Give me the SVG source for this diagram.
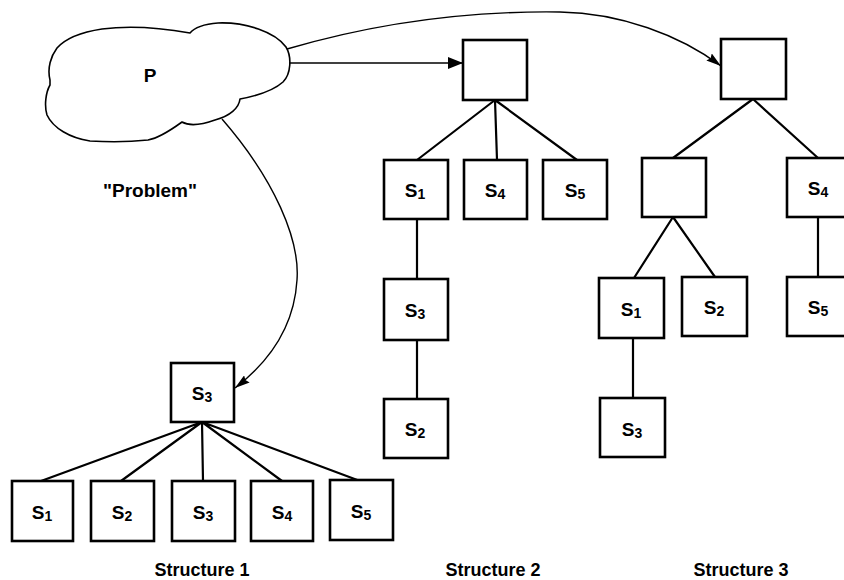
<svg xmlns="http://www.w3.org/2000/svg" width="844" height="580" viewBox="0 0 844 580">
  <defs>
    <style>
      .box { fill: #fff; stroke: #000; stroke-width: 2.6; }
      .edge { fill: none; stroke: #000; stroke-width: 2.2; }
      .flow { fill: none; stroke: #000; stroke-width: 1.4; }
      .cloud { fill: #fff; stroke: #000; stroke-width: 1.6; stroke-linejoin: round; }
      .lbl { font-family: "Liberation Sans", Arial, sans-serif; font-size: 19px; font-weight: bold; fill: #000; text-anchor: middle; }
      .sub { font-size: 14px; }
      .cap { font-family: "Liberation Sans", Arial, sans-serif; font-size: 18px; font-weight: bold; fill: #000; text-anchor: middle; }
    </style>
    <marker id="headBig" viewBox="0 0 15 12" refX="15" refY="6" markerWidth="15" markerHeight="12" orient="auto" markerUnits="userSpaceOnUse">
      <path d="M0,0 L15,6 L0,12 z" fill="#000"/>
    </marker>
    <marker id="headThin" viewBox="0 0 15 9" refX="15" refY="4.5" markerWidth="15" markerHeight="9" orient="auto" markerUnits="userSpaceOnUse">
      <path d="M0,0 L15,4.5 L0,9 L2,4.5 z" fill="#000"/>
    </marker>
  </defs>

  <!-- problem cloud -->
  <g id="problem">
    <path class="cloud" d="M50,80 C47,68 51,56 57,48 C65,39 82,32 102,29 C132,25 162,28 190,33 C195,27 205,24 218,23 C246,22 275,32 286,47 C292,57 291,74 283,82 C273,91 256,96 240,99 C239,108 230,116 215,120 C201,125 189,126 182,122 C171,130 159,138 148,140 C130,142 106,142 90,141 C70,138 53,128 47,115 C44,105 46,92 50,85 Z"/>
    <text class="lbl" x="150" y="82">P</text>
  </g>
  <text id="problem-caption" class="lbl" x="150" y="197">"Problem"</text>

  <!-- connectors -->
  <g id="connectors">
    <!-- problem to each structure -->
    <path class="flow" d="M289,63 L463,63" marker-end="url(#headBig)"/>
    <path class="flow" d="M287,49 Q420,10 560,12 C620,13 680,35 721,66" marker-end="url(#headThin)"/>
    <path class="flow" d="M222,119 C275,180 300,240 297,280 C294,330 265,365 235,388" marker-end="url(#headThin)"/>

    <!-- structure 1 -->
    <path class="edge" d="M202,422 L41,481 M202,422 L121,481 M202,422 L203,481 M202,422 L282,481 M202,422 L360,481"/>

    <!-- structure 2 -->
    <path class="edge" d="M495,100 L417,160 M495,100 L497,160 M495,100 L577,160 M417,219 L417,279 M417,340 L417,399"/>

    <!-- structure 3 -->
    <path class="edge" d="M753,99 L673,158 M753,99 L818,158 M673,217 L634,278 M673,217 L715,277 M633,338 L633,398 M818,217 L818,277"/>
  </g>

  <!-- structure 1 nodes -->
  <g id="st1-root"><rect class="box" x="171" y="363" width="63" height="59"/><text class="lbl" x="202" y="400">S<tspan class="sub" dy="2">3</tspan></text></g>
  <g id="st1-s1"><rect class="box" x="12" y="481" width="61" height="60"/><text class="lbl" x="42" y="519">S<tspan class="sub" dy="2">1</tspan></text></g>
  <g id="st1-s2"><rect class="box" x="91" y="481" width="63" height="60"/><text class="lbl" x="122" y="519">S<tspan class="sub" dy="2">2</tspan></text></g>
  <g id="st1-s3"><rect class="box" x="172" y="481" width="63" height="60"/><text class="lbl" x="203" y="519">S<tspan class="sub" dy="2">3</tspan></text></g>
  <g id="st1-s4"><rect class="box" x="251" y="481" width="62" height="60"/><text class="lbl" x="282" y="519">S<tspan class="sub" dy="2">4</tspan></text></g>
  <g id="st1-s5"><rect class="box" x="330" y="480" width="63" height="60"/><text class="lbl" x="361" y="518">S<tspan class="sub" dy="2">5</tspan></text></g>

  <!-- structure 2 nodes -->
  <g id="st2-root"><rect class="box" x="463" y="40" width="64" height="60"/></g>
  <g id="st2-s1"><rect class="box" x="384" y="160" width="64" height="59"/><text class="lbl" x="415" y="197">S<tspan class="sub" dy="2">1</tspan></text></g>
  <g id="st2-s4"><rect class="box" x="464" y="160" width="63" height="59"/><text class="lbl" x="495" y="197">S<tspan class="sub" dy="2">4</tspan></text></g>
  <g id="st2-s5"><rect class="box" x="543" y="160" width="64" height="59"/><text class="lbl" x="575" y="197">S<tspan class="sub" dy="2">5</tspan></text></g>
  <g id="st2-s3"><rect class="box" x="384" y="279" width="64" height="61"/><text class="lbl" x="415" y="317">S<tspan class="sub" dy="2">3</tspan></text></g>
  <g id="st2-s2"><rect class="box" x="384" y="399" width="64" height="59"/><text class="lbl" x="415" y="436">S<tspan class="sub" dy="2">2</tspan></text></g>

  <!-- structure 3 nodes -->
  <g id="st3-root"><rect class="box" x="721" y="39" width="65" height="60"/></g>
  <g id="st3-mid"><rect class="box" x="642" y="158" width="64" height="59"/></g>
  <g id="st3-s4"><rect class="box" x="787" y="158" width="65" height="59"/><text class="lbl" x="818" y="195">S<tspan class="sub" dy="2">4</tspan></text></g>
  <g id="st3-s1"><rect class="box" x="599" y="278" width="65" height="60"/><text class="lbl" x="631" y="316">S<tspan class="sub" dy="2">1</tspan></text></g>
  <g id="st3-s2"><rect class="box" x="682" y="277" width="65" height="59"/><text class="lbl" x="714" y="314">S<tspan class="sub" dy="2">2</tspan></text></g>
  <g id="st3-s5"><rect class="box" x="787" y="277" width="65" height="59"/><text class="lbl" x="818" y="314">S<tspan class="sub" dy="2">5</tspan></text></g>
  <g id="st3-s3"><rect class="box" x="600" y="398" width="65" height="59"/><text class="lbl" x="632" y="436">S<tspan class="sub" dy="2">3</tspan></text></g>

  <!-- captions -->
  <text class="cap" x="202" y="576">Structure 1</text>
  <text class="cap" x="493" y="576">Structure 2</text>
  <text class="cap" x="741" y="576">Structure 3</text>
</svg>
